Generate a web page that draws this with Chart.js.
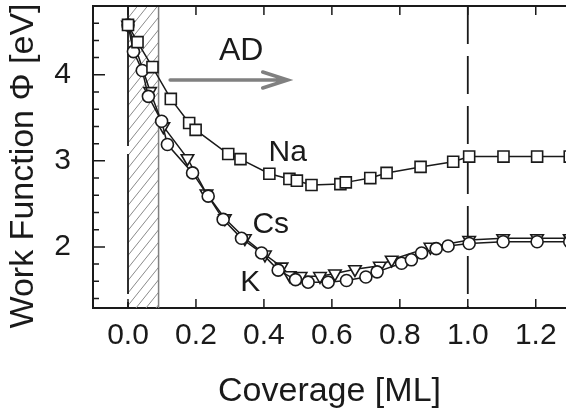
<!DOCTYPE html>
<html lang="en">
<head>
<meta charset="UTF-8">
<title>Work Function vs Coverage</title>
<script src="https://cdn.jsdelivr.net/npm/chart.js"></script>
<style>
  body { padding: 0; margin: 0; background: #fff; }
  #chartContainer { width: 566px; height: 412px; }
</style>
</head>
<body>

<div id="chartContainer">
    <canvas id="myChart"></canvas>
</div>

<script>
// values: coverage [ML] / work function [eV]
var naCoverage = [0.0, 0.028, 0.072, 0.126, 0.180, 0.199, 0.295, 0.331, 0.416, 0.475, 0.497, 0.540, 0.625, 0.641, 0.713, 0.761, 0.861, 0.957, 1.004, 1.105, 1.204, 1.300];
var naPhi      = [4.58, 4.38, 4.09, 3.72, 3.44, 3.36, 3.08, 3.02, 2.85, 2.79, 2.77, 2.72, 2.73, 2.75, 2.80, 2.86, 2.93, 2.99, 3.05, 3.05, 3.05, 3.05];

var kCoverage = [0.0, 0.016, 0.042, 0.060, 0.099, 0.116, 0.190, 0.236, 0.280, 0.334, 0.393, 0.442, 0.493, 0.530, 0.589, 0.643, 0.700, 0.733, 0.805, 0.834, 0.864, 0.907, 0.942, 1.004, 1.104, 1.204, 1.300];
var kPhi      = [4.58, 4.27, 4.05, 3.75, 3.46, 3.19, 2.86, 2.59, 2.32, 2.10, 1.93, 1.73, 1.62, 1.59, 1.59, 1.61, 1.65, 1.71, 1.81, 1.85, 1.93, 1.98, 2.01, 2.04, 2.06, 2.06, 2.06];

var csCoverage = [0.0, 0.065, 0.104, 0.175, 0.231, 0.285, 0.344, 0.403, 0.452, 0.476, 0.508, 0.565, 0.609, 0.668, 0.741, 0.776, 0.890, 1.004, 1.104, 1.204, 1.300];
var csPhi      = [4.58, 3.81, 3.40, 3.03, 2.62, 2.33, 2.10, 1.91, 1.77, 1.67, 1.66, 1.66, 1.69, 1.74, 1.78, 1.85, 2.00, 2.08, 2.10, 2.10, 2.10];

var xTicks = [0.0, 0.2, 0.4, 0.6, 0.8, 1.0, 1.2];
var yTicks = [2, 3, 4];
var yMinorTicks = [1.4, 1.6, 1.8, 2.2, 2.4, 2.6, 2.8, 3.2, 3.4, 3.6, 3.8, 4.2, 4.4, 4.6];

// annotations (data coordinates)
var hatchFrom = 0.0, hatchTo = 0.09;
var dashedAt = [0.0, 1.0];
var curveNames = ['Na', 'Cs', 'K'];
var curveNameX = [0.47, 0.42, 0.36];
var curveNameY = [3.09, 2.26, 1.58];
var arrowX = [0.124, 0.47], arrowY = 3.94;
var arrowText = 'AD', arrowTextX = 0.333, arrowTextY = 4.27;
var yTitle = 'Work Function \u03A6 [eV]';

var ink = '#1a1a1a';
var fontFamily = '"Liberation Sans", Arial, Helvetica, sans-serif';

function toPoints(xs, ys) {
    return xs.map(function(x, i) { return {x: x, y: ys[i]}; });
}

function noPadding(s) {
    s.paddingTop = 0; s.paddingBottom = 0; s.paddingLeft = 0; s.paddingRight = 0;
}

var decorations = {
    id: 'decorations',
    beforeDatasetsDraw: function(chart) {
        var ctx = chart.ctx, a = chart.chartArea;
        var xs = chart.scales.x, ys = chart.scales.y;
        var h = a.bottom - a.top;

        // hatched band
        var hx0 = xs.getPixelForValue(hatchFrom), hx1 = xs.getPixelForValue(hatchTo);
        ctx.save();
        ctx.beginPath();
        ctx.rect(hx0, a.top, hx1 - hx0, h);
        ctx.clip();
        ctx.strokeStyle = '#8a8a8a';
        ctx.lineWidth = 1;
        for (var d = -h; d < (hx1 - hx0) + 10; d += 10) {
            ctx.beginPath();
            ctx.moveTo(hx0 + d, a.bottom);
            ctx.lineTo(hx0 + d + h * 0.8, a.top);
            ctx.stroke();
        }
        ctx.restore();

        ctx.save();
        ctx.strokeStyle = '#808080';
        ctx.lineWidth = 1.5;
        ctx.beginPath();
        ctx.moveTo(hx1, a.top);
        ctx.lineTo(hx1, a.bottom);
        ctx.stroke();

        // dashed verticals
        ctx.strokeStyle = ink;
        ctx.lineWidth = 1.8;
        dashedAt.forEach(function(v, i) {
            var px = xs.getPixelForValue(v);
            ctx.setLineDash(i === 0 ? [140, 8] : [38, 12]);
            ctx.beginPath();
            ctx.moveTo(px, a.top);
            ctx.lineTo(px, a.bottom);
            ctx.stroke();
        });
        ctx.setLineDash([]);

        // frame (top) and inward ticks
        ctx.lineWidth = 2;
        ctx.beginPath();
        ctx.moveTo(a.left, a.top);
        ctx.lineTo(a.right, a.top);
        ctx.stroke();
        ctx.lineWidth = 1.5;
        ctx.beginPath();
        xTicks.forEach(function(v) {
            var px = xs.getPixelForValue(v);
            ctx.moveTo(px, a.bottom); ctx.lineTo(px, a.bottom - 9);
            ctx.moveTo(px, a.top); ctx.lineTo(px, a.top + 9);
        });
        yTicks.forEach(function(v) {
            var py = ys.getPixelForValue(v);
            ctx.moveTo(a.left, py); ctx.lineTo(a.left + 12, py);
        });
        yMinorTicks.forEach(function(v) {
            var py = ys.getPixelForValue(v);
            ctx.moveTo(a.left, py); ctx.lineTo(a.left + 6, py);
        });
        ctx.stroke();
        ctx.restore();
    },
    afterDatasetsDraw: function(chart) {
        var ctx = chart.ctx;
        var xs = chart.scales.x, ys = chart.scales.y;
        ctx.save();
        // arrow
        var ax0 = xs.getPixelForValue(arrowX[0]), ax1 = xs.getPixelForValue(arrowX[1]);
        var ay = ys.getPixelForValue(arrowY);
        ctx.strokeStyle = '#808080';
        ctx.lineWidth = 3.5;
        ctx.lineCap = 'round';
        ctx.beginPath();
        ctx.moveTo(ax0, ay); ctx.lineTo(ax1, ay);
        ctx.moveTo(ax1 - 25, ay - 8); ctx.lineTo(ax1, ay); ctx.lineTo(ax1 - 25, ay + 8);
        ctx.stroke();

        // text labels
        ctx.fillStyle = ink;
        ctx.textAlign = 'center';
        ctx.textBaseline = 'middle';
        ctx.font = '32px ' + fontFamily;
        ctx.fillText(arrowText, xs.getPixelForValue(arrowTextX), ys.getPixelForValue(arrowTextY));
        ctx.font = '30px ' + fontFamily;
        curveNames.forEach(function(n, i) {
            ctx.fillText(n, xs.getPixelForValue(curveNameX[i]), ys.getPixelForValue(curveNameY[i]));
        });

        // y axis title, a bit below the axis centre as in the figure
        ctx.translate(24, 166);
        ctx.rotate(-Math.PI / 2);
        ctx.font = '34px ' + fontFamily;
        ctx.fillText(yTitle, 0, 0);
        ctx.restore();
    }
};

function series(label, xs, ys, style, radius) {
    return {
        label: label,
        data: toPoints(xs, ys),
        showLine: true,
        borderColor: ink,
        borderWidth: 1.5,
        backgroundColor: '#fff',
        pointStyle: style,
        pointRotation: style === 'triangle' ? 180 : 0,
        pointRadius: radius,
        pointBorderWidth: 1.6,
        pointBackgroundColor: '#fff',
        pointBorderColor: ink,
        tension: 0
    };
}

var chartCtx = document.getElementById('myChart').getContext('2d');
var myChart = new Chart(chartCtx, {
    type: 'scatter',
    data: {
        datasets: [
            series('Na', naCoverage, naPhi, 'rect', 7.8),
            series('K', kCoverage, kPhi, 'circle', 6),
            series('Cs', csCoverage, csPhi, 'triangle', 7.2)
        ]
    },
    options: {
        responsive: true,
        maintainAspectRatio: false,
        animation: false,
        layout: { autoPadding: false, padding: { top: 6, left: 0, right: 0, bottom: 0 } },
        plugins: {
            legend: { display: false },
            tooltip: { enabled: false }
        },
        scales: {
            x: {
                type: 'linear',
                min: -0.103,
                max: 1.289,
                afterFit: function(s) { s.height = 104; noPadding(s); },
                afterBuildTicks: function(s) { s.ticks = xTicks.map(function(v) { return {value: v}; }); },
                grid: { display: false, drawTicks: false },
                border: { display: true, color: ink, width: 2 },
                ticks: {
                    padding: 10,
                    color: ink,
                    font: { family: fontFamily, size: 30 },
                    maxRotation: 0,
                    callback: function(v) { return Number(v).toFixed(1); }
                },
                title: {
                    display: true,
                    text: 'Coverage [ML]',
                    color: ink,
                    font: { family: fontFamily, size: 34 },
                    padding: { top: 0, bottom: 0 }
                }
            },
            y: {
                type: 'linear',
                min: 1.29,
                max: 4.80,
                afterFit: function(s) { s.width = 93; noPadding(s); },
                afterBuildTicks: function(s) { s.ticks = yTicks.map(function(v) { return {value: v}; }); },
                grid: { display: false, drawTicks: false },
                border: { display: true, color: ink, width: 2 },
                ticks: {
                    padding: 22,
                    color: ink,
                    font: { family: fontFamily, size: 30 },
                    callback: function(v) { return String(v); }
                },
                title: { display: false }
            }
        }
    },
    plugins: [decorations]
});
</script>

</body>
</html>
